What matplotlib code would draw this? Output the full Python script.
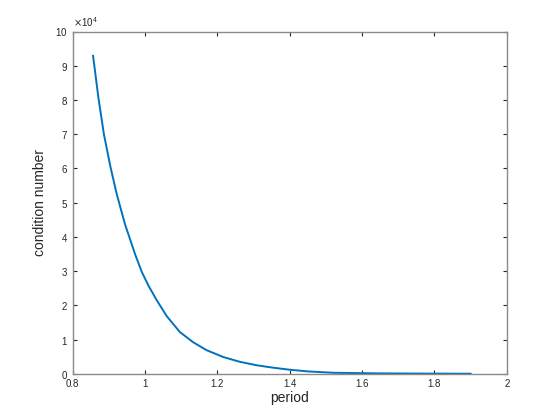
import matplotlib
matplotlib.use("Agg")
import matplotlib.pyplot as plt
from matplotlib.ticker import ScalarFormatter, FuncFormatter

# values (condition number vs period)
period = [0.856, 0.861, 0.871, 0.886, 0.904, 0.921, 0.944, 0.972, 0.991,
          1.009, 1.032, 1.060, 1.096, 1.133, 1.170, 1.216, 1.262, 1.308,
          1.353, 1.399, 1.450, 1.520, 1.650, 1.800, 1.900]
cond = [92900, 88800, 80500, 70000, 60500, 52700, 43800, 35000, 29700,
        25800, 21500, 16800, 12200, 9200, 6900, 4900, 3500, 2500,
        1800, 1200, 700, 300, 120, 50, 30]

xticks = [0.8, 1, 1.2, 1.4, 1.6, 1.8, 2]
yticks = [i * 10000 for i in range(11)]

plt.rcParams['font.family'] = ['Liberation Sans', 'DejaVu Sans']

fig = plt.figure(figsize=(5.6, 4.2), dpi=100)
ax = fig.add_axes([0.13, 0.11, 0.775, 0.815])
ax.plot(period, cond, color='#0072BD', lw=1.4)

ax.set_xlim(0.8, 2)
ax.set_ylim(0, 100000)
ax.set_xticks(xticks)
ax.set_yticks(yticks)
ax.xaxis.set_major_formatter(FuncFormatter(lambda v, p: '%g' % v))
fmt = ScalarFormatter(useMathText=True)
fmt.set_powerlimits((4, 4))
ax.yaxis.set_major_formatter(fmt)
ax.yaxis.get_offset_text().set_fontsize(7)
ax.yaxis.get_offset_text().set_color('#555555')

ax.tick_params(direction='in', length=3, width=0.8, colors='#262626',
               labelsize=7, top=True, right=True)
for s in ax.spines.values():
    s.set_color('#8a8a8a')
    s.set_linewidth(1.0)

ax.set_xlabel('period', fontsize=10, color='#262626', labelpad=2)
ax.set_ylabel('condition number', fontsize=10, color='#262626', labelpad=6)

fig.savefig('out.png', dpi=100)
